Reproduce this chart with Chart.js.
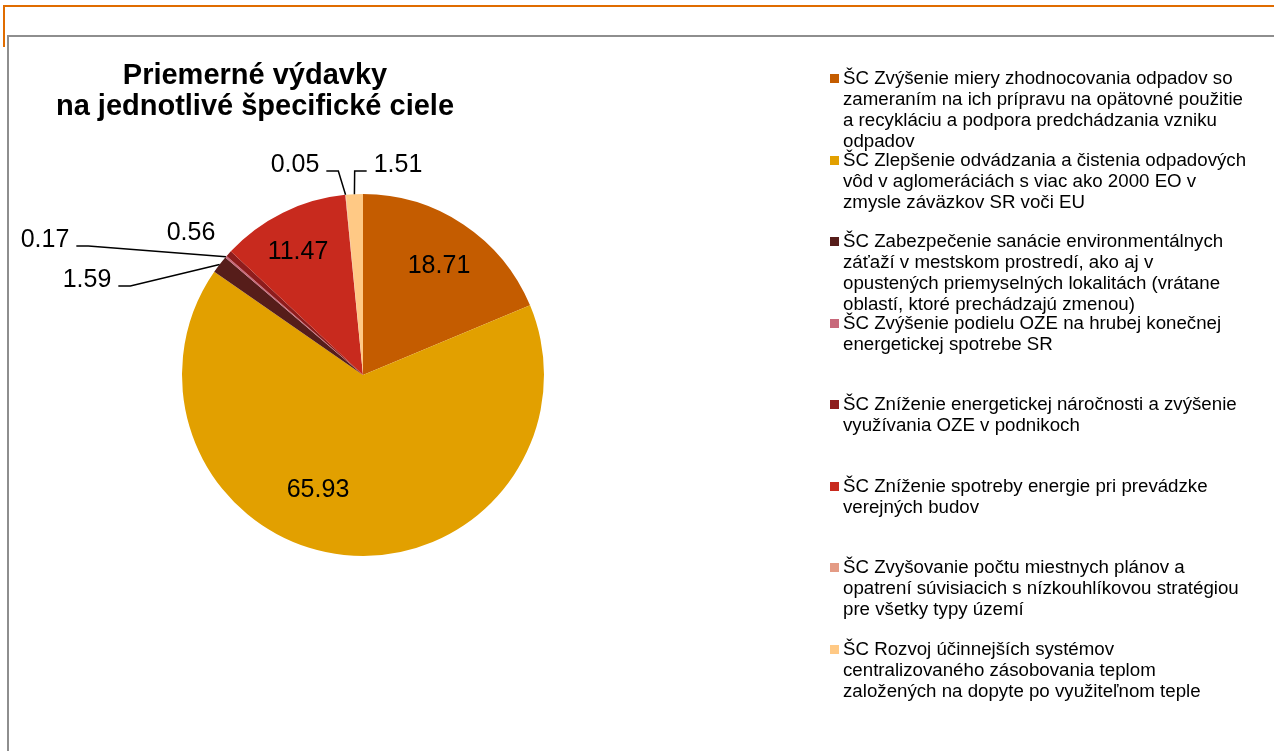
<!DOCTYPE html>
<html>
<head>
<meta charset="utf-8">
<script src="https://cdn.jsdelivr.net/npm/chart.js@4"></script>
<style>
  body { margin: 0; width: 1274px; height: 751px; background: #fff; overflow: hidden; font-family: "Liberation Sans", Arial, sans-serif; }
  #frameOuter { position: absolute; left: 3px; top: 5px; right: -5px; height: 40px; border-top: 2px solid #e06c00; border-left: 2px solid #e06c00; }
  #frameInner { position: absolute; left: 7px; top: 35px; right: -5px; bottom: -5px; border-top: 2px solid #8e8e8e; border-left: 2px solid #8e8e8e; }
  #pie-chart { position: absolute; left: 0; top: 0; }
  #title { position: absolute; left: 0; top: 59px; width: 510px; text-align: center; font-weight: bold; font-size: 29px; line-height: 31px; color: #000; }
  #legend { position: absolute; left: 830px; top: 67px; width: 440px; }
  .item { position: relative; height: 81.5px; }
  .box { position: absolute; left: 0; top: 7px; width: 9px; height: 9px; }
  .txt { position: absolute; left: 13px; top: 0; width: 407px; font-size: 18.7px; line-height: 21px; color: #000; }
</style>
</head>
<body>
<div id="frameOuter"></div>
<div id="frameInner"></div>
<canvas id="pie-chart" width="1274" height="751"></canvas>
<div id="title"></div>
<div id="legend"></div>
<script>
//Chart data
var titleLines = ["Priemerné výdavky", "na jednotlivé špecifické ciele"];
var categories = [
  "ŠC Zvýšenie miery zhodnocovania odpadov so zameraním na ich prípravu na opätovné použitie a recykláciu a podpora predchádzania vzniku odpadov",
  "ŠC Zlepšenie odvádzania a čistenia odpadových vôd v aglomeráciách s viac ako 2000 EO v zmysle záväzkov SR voči EU",
  "ŠC Zabezpečenie sanácie environmentálnych záťaží v mestskom prostredí, ako aj v opustených priemyselných lokalitách (vrátane oblastí, ktoré prechádzajú zmenou)",
  "ŠC Zvýšenie podielu OZE na hrubej konečnej energetickej spotrebe SR",
  "ŠC Zníženie energetickej náročnosti a zvýšenie využívania OZE v podnikoch",
  "ŠC Zníženie spotreby energie pri prevádzke verejných budov",
  "ŠC Zvyšovanie počtu miestnych plánov a opatrení súvisiacich s nízkouhlíkovou stratégiou pre všetky typy území",
  "ŠC Rozvoj účinnejších systémov centralizovaného zásobovania teplom založených na dopyte po využiteľnom teple"
];
var values = [18.71, 65.93, 1.59, 0.17, 0.56, 11.47, 0.05, 1.51];
var colors = ["#c45c00", "#e2a000", "#561d1a", "#c8687a", "#8e1c1c", "#c82a1e", "#e49b85", "#ffc985"];

//Label placement (offset from pie centre, px) and leader line flag
var labelPlacement = [
  { dx: 76, dy: -109, leader: false },
  { dx: -45, dy: 115, leader: false },
  { dx: -276, dy: -95, leader: true },
  { dx: -318, dy: -135, leader: true },
  { dx: -172, dy: -142, leader: false },
  { dx: -65, dy: -123, leader: false },
  { dx: -68, dy: -210, leader: true },
  { dx: 35, dy: -210, leader: true }
];

//Title
document.getElementById("title").innerHTML = titleLines.join("<br>");

//Legend
var legend = document.getElementById("legend");
for (var i = 0; i < categories.length; i++) {
  var item = document.createElement("div");
  item.className = "item";
  item.innerHTML = '<div class="box" style="background:' + colors[i] + '"></div><div class="txt">' + categories[i] + '</div>';
  legend.appendChild(item);
}

//Data labels with leader lines
var pieLabels = {
  id: 'pieLabels',
  afterDatasetsDraw: function(chart) {
    var ctx = chart.ctx;
    var arcs = chart.getDatasetMeta(0).data;
    ctx.save();
    ctx.font = '25px "Liberation Sans", Arial, sans-serif';
    ctx.fillStyle = '#000';
    ctx.strokeStyle = '#000';
    ctx.lineWidth = 1.5;
    ctx.textAlign = 'center';
    ctx.textBaseline = 'middle';
    arcs.forEach(function(arc, i) {
      var p = arc.getProps(['x', 'y', 'startAngle', 'endAngle', 'outerRadius'], true);
      var place = labelPlacement[i];
      var lx = p.x + place.dx;
      var ly = p.y + place.dy;
      var text = values[i].toFixed(2);
      ctx.fillText(text, lx, ly);
      if (place.leader) {
        var mid = (p.startAngle + p.endAngle) / 2;
        var ex = p.x + Math.cos(mid) * p.outerRadius;
        var ey = p.y + Math.sin(mid) * p.outerRadius;
        var half = ctx.measureText(text).width / 2;
        var dir = ex > lx ? 1 : -1;
        var sx = lx + dir * (half + 7);
        var sy = ly + 6;
        var kx = sx + dir * 12;
        ctx.beginPath();
        ctx.moveTo(sx, sy);
        ctx.lineTo(kx, sy);
        ctx.lineTo(ex, ey);
        ctx.stroke();
      }
    });
    ctx.restore();
  }
};

var pieChart = new Chart(document.getElementById("pie-chart"), {
  type: 'pie',
  data: {
    labels: categories,
    datasets: [{
      data: values,
      backgroundColor: colors,
      borderWidth: 0
    }]
  },
  options: {
    responsive: false,
    animation: false,
    layout: {
      padding: { left: 182, right: 730, top: 194, bottom: 195 }
    },
    plugins: {
      legend: { display: false },
      title: { display: false },
      tooltip: { enabled: false }
    }
  },
  plugins: [pieLabels]
});
</script>
</body>
</html>
